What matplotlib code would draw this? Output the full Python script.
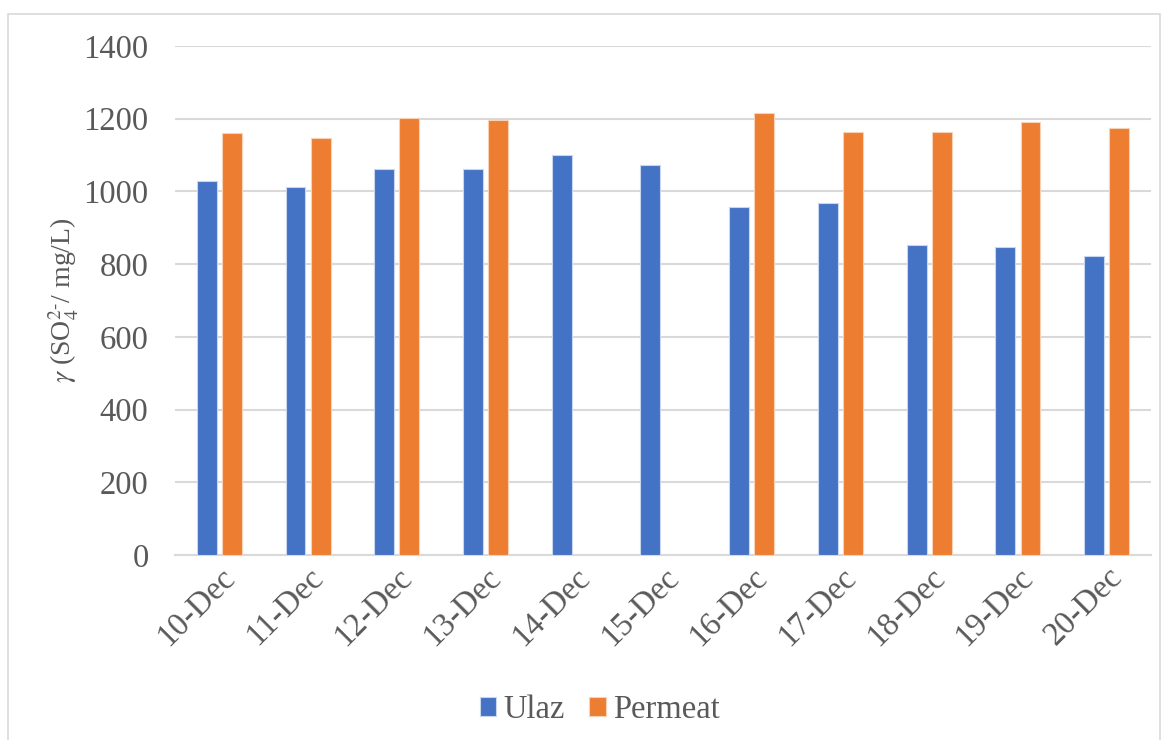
import numpy as np
import matplotlib
matplotlib.use("Agg")
import matplotlib.pyplot as plt
from matplotlib.patches import Rectangle

categories = ["10-Dec", "11-Dec", "12-Dec", "13-Dec", "14-Dec", "15-Dec",
              "16-Dec", "17-Dec", "18-Dec", "19-Dec", "20-Dec"]
ulaz = [1030, 1012, 1062, 1061, 1100, 1073, 956, 968, 854, 846, 823]
permeat = [1161, 1146, 1202, 1196, np.nan, np.nan, 1216, 1163, 1163, 1190, 1175]
yticks = [0, 200, 400, 600, 800, 1000, 1200, 1400]

plt.rcParams['font.family'] = ['Liberation Serif', 'DejaVu Serif']
plt.rcParams['mathtext.fontset'] = 'stix'

txt = '#595959'
fig = plt.figure(figsize=(11.67, 7.40), dpi=100)
ax = fig.add_axes([175/1167, 1 - 555/740, (1151-175)/1167, (555-46)/740])

x = np.arange(len(categories))
w = 0.225
off = 0.142
ax.bar(x - off, ulaz, w, color='#4472C4', edgecolor='#c9d6ef', linewidth=0.8, label='Ulaz', zorder=3)
ax.bar(x + off, permeat, w, color='#ED7D31', edgecolor='#f8d2b6', linewidth=0.8, label='Permeat', zorder=3)

ax.set_xlim(-0.5, len(categories) - 0.5)
ax.set_ylim(0, 1400)
ax.set_yticks(yticks)
ax.set_yticklabels([str(v) for v in yticks], fontsize=23.5, color=txt)
ax.set_xticks(x)
ax.set_xticklabels(categories, rotation=45, ha='right', rotation_mode='anchor',
                   fontsize=23.5, color=txt)
ax.tick_params(axis='y', length=0, pad=19)
ax.tick_params(axis='x', length=0, pad=5)
ax.grid(axis='y', color='#d9d9d9', linewidth=1.5, zorder=0)
for s in ['top', 'right', 'left']:
    ax.spines[s].set_visible(False)
ax.spines['bottom'].set_color('#d9d9d9')
ax.spines['bottom'].set_linewidth(1.5)

ax.set_ylabel(r'$\gamma$ (SO$_4^{2\text{-}}$/ mg/L)', fontsize=20, color=txt, labelpad=2)

leg = fig.legend(loc='center', bbox_to_anchor=(0.514, 1 - 710/740), ncol=2, frameon=False,
                 fontsize=23.5, handlelength=0.5, handleheight=0.5, handletextpad=0.22,
                 columnspacing=0.75)
for t in leg.get_texts():
    t.set_color(txt)

fig.patches.append(Rectangle((8/1167, -0.01), (1160-8)/1167, 1 - 14/740 + 0.01,
                             transform=fig.transFigure, fill=False,
                             edgecolor='#d9d9d9', linewidth=1.2))

fig.savefig('out.png', dpi=100)
